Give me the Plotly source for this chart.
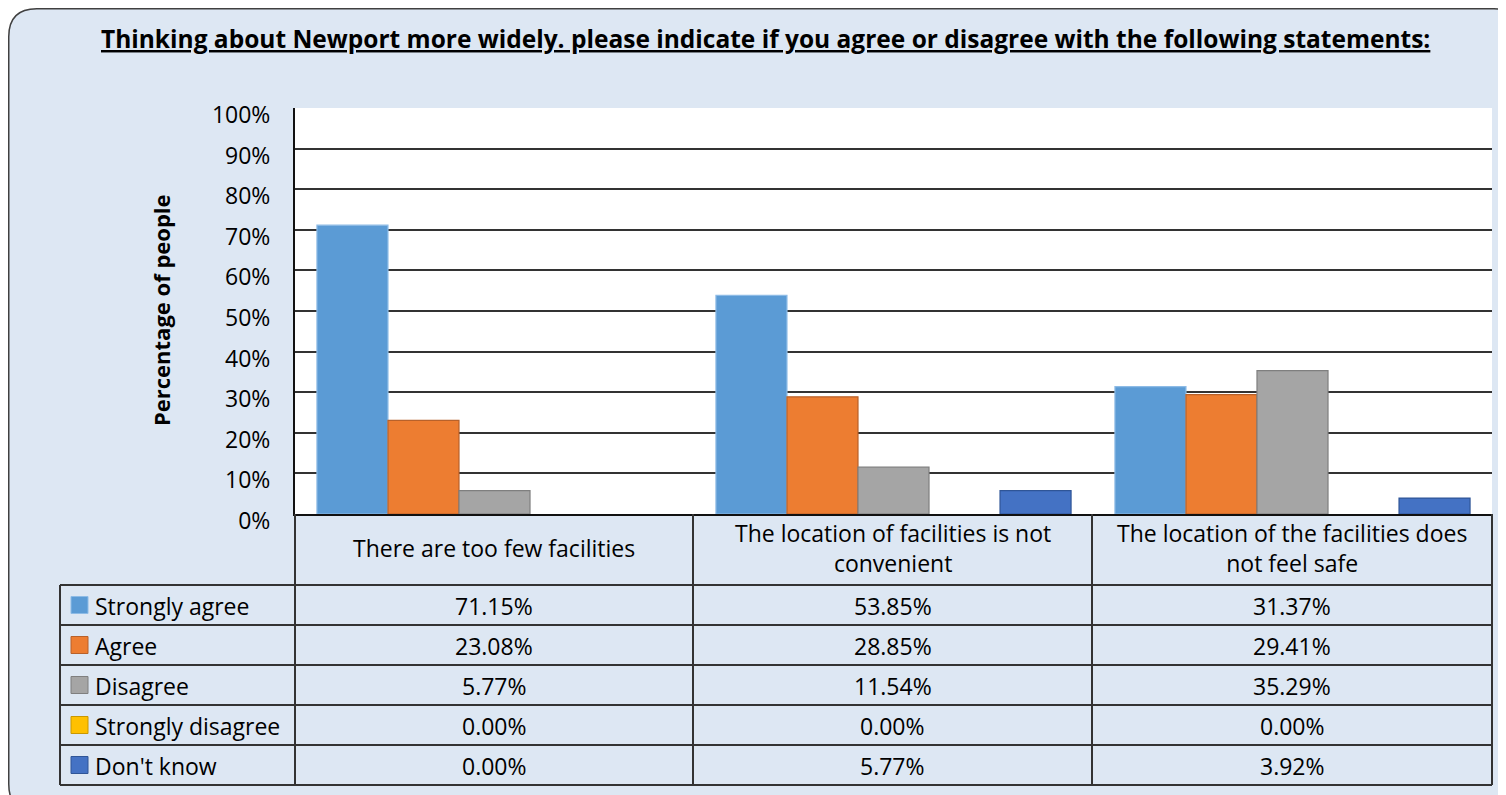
import plotly.graph_objects as go

# ---------------- data ----------------
categories = ["There are too few facilities",
              "The location of facilities is not<br>convenient",
              "The location of the facilities does<br>not feel safe"]
series_names = ["Strongly agree", "Agree", "Disagree", "Strongly disagree", "Don't know"]
strongly_agree = [71.15, 53.85, 31.37]
agree = [23.08, 28.85, 29.41]
disagree = [5.77, 11.54, 35.29]
strongly_disagree = [0.00, 0.00, 0.00]
dont_know = [0.00, 5.77, 3.92]
series_values = [strongly_agree, agree, disagree, strongly_disagree, dont_know]
y_ticks = list(range(0, 101, 10))

title = "Thinking about Newport more widely. please indicate if you agree or disagree with the following statements:"
y_title = "Percentage of people"

# ---------------- style ----------------
fills = ["#5B9BD5", "#ED7D31", "#A5A5A5", "#FFC000", "#4472C4"]
edges = ["#8DBBE6", "#B8612A", "#7F7F7F", "#C99700", "#2F5597"]
BG = "#DDE7F3"
FONT = "Open Sans"
OFF = 8  # browser body margin
W, H = 1506 - OFF, 795 - OFF
# plot area in page pixels: x 295..1492, y 108..514
L, T = 295 - OFF, 108 - OFF
R, B = W - (1492 - OFF), H - (514 - OFF)
PW, PH = W - L - R, H - T - B


def px(xp):
    """page pixel x -> paper"""
    return (xp - OFF - L) / PW


def py(yp):
    """page pixel y -> paper"""
    return (H - B - (yp - OFF)) / PH


fig = go.Figure()
for name, vals, f, e in zip(series_names, series_values, fills, edges):
    fig.add_trace(go.Bar(name=name, x=categories, y=vals,
                         marker=dict(color=f, line=dict(color=e,
                                                        width=[0 if v == 0 else 1.2 for v in vals]))))

shapes = []
# outer rounded panel
x0, y0, x1, y1, r = px(8.75), py(8.75), px(1522), py(812), 28
rx, ry = r / PW, r / PH
path = (f"M {x0+rx},{y0} L {x1-rx},{y0} Q {x1},{y0} {x1},{y0-ry} "
        f"L {x1},{y1+ry} Q {x1},{y1} {x1-rx},{y1} L {x0+rx},{y1} "
        f"Q {x0},{y1} {x0},{y1+ry} L {x0},{y0-ry} Q {x0},{y0} {x0+rx},{y0} Z")
shapes.append(dict(type="path", path=path, xref="paper", yref="paper", layer="below",
                   fillcolor=BG, line=dict(color="#404040", width=1.5)))
# white plot area
shapes.append(dict(type="rect", xref="paper", yref="paper", x0=0, x1=1, y0=0, y1=1,
                   layer="below", fillcolor="white", line=dict(width=0)))

# data table grid
col_x = [295, 693, 1092, 1492]
row_y = [585, 625, 665, 705, 745, 785]
lc = dict(color="#333333", width=2)
for yy in row_y:
    shapes.append(dict(type="line", xref="paper", yref="paper",
                       x0=px(60), x1=px(1492), y0=py(yy), y1=py(yy), line=lc))
shapes.append(dict(type="line", xref="paper", yref="paper",
                   x0=px(60), x1=px(60), y0=py(585), y1=py(785), line=lc))
for xx in col_x:
    shapes.append(dict(type="line", xref="paper", yref="paper",
                       x0=px(xx), x1=px(xx), y0=py(514), y1=py(785), line=lc))

TXT = 23
annotations = []
# title
annotations.append(dict(text=f"<b><u>{title}</u></b>", xref="paper", yref="paper",
                        x=px(765), y=py(38), showarrow=False, xanchor="center", yanchor="middle",
                        font=dict(family=FONT, size=24.5, color="black")))
# y title
annotations.append(dict(text=f"<b>{y_title}</b>", xref="paper", yref="paper",
                        x=px(161), y=py(310), showarrow=False, textangle=-90,
                        xanchor="center", yanchor="middle",
                        font=dict(family=FONT, size=22, color="black")))
# header row (categories)
for i, cat in enumerate(categories):
    cx = (col_x[i] + col_x[i + 1]) / 2
    annotations.append(dict(text=cat, xref="paper", yref="paper", x=px(cx), y=py(548),
                            showarrow=False, xanchor="center", yanchor="middle",
                            font=dict(family=FONT, size=TXT, color="black")))
# legend keys + values
for j, (name, vals) in enumerate(zip(series_names, series_values)):
    cy = (row_y[j] + row_y[j + 1]) / 2
    shapes.append(dict(type="rect", xref="paper", yref="paper",
                       x0=px(71), x1=px(88), y0=py(cy - 8.5), y1=py(cy + 8.5),
                       fillcolor=fills[j], line=dict(color=edges[j], width=1)))
    annotations.append(dict(text=name, xref="paper", yref="paper", x=px(93), y=py(cy + 1),
                            showarrow=False, xanchor="left", yanchor="middle",
                            font=dict(family=FONT, size=TXT, color="black")))
    for i, v in enumerate(vals):
        cx = (col_x[i] + col_x[i + 1]) / 2
        annotations.append(dict(text=f"{v:.2f}%", xref="paper", yref="paper",
                                x=px(cx), y=py(cy + 1), showarrow=False,
                                xanchor="center", yanchor="middle",
                                font=dict(family=FONT, size=TXT, color="black")))

fig.update_layout(
    width=W, height=H,
    margin=dict(l=L, r=R, t=T, b=B, pad=0),
    paper_bgcolor="white", plot_bgcolor="rgba(0,0,0,0)",
    barmode="group", bargap=0.11, bargroupgap=0,
    showlegend=False,
    shapes=shapes, annotations=annotations,
    font=dict(family=FONT, color="black"),
)
fig.update_xaxes(showticklabels=False, showgrid=False, showline=True,
                 linecolor="#111111", linewidth=2, ticks="", zeroline=False)
fig.update_yaxes(range=[0, 100], tickvals=y_ticks, ticktext=[f"{t}%" for t in y_ticks],
                 showgrid=True, gridcolor="#333333", gridwidth=1.6,
                 showline=True, linecolor="#111111", linewidth=2, ticks="",
                 zeroline=False, ticklabelstandoff=18, ticklabelshift=7,
                 tickfont=dict(family=FONT, size=23, color="black"))

fig.write_html("out.html")
